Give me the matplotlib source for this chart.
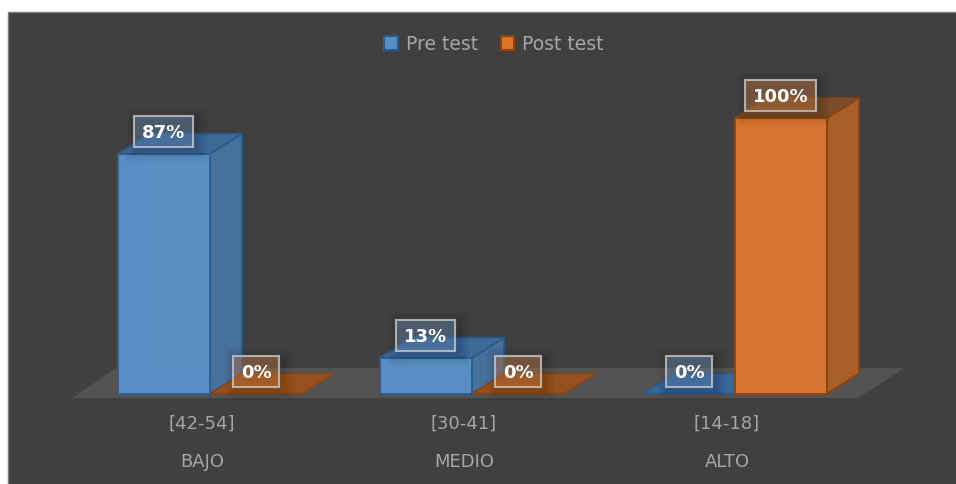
"""Pre/post test levels, Excel style 3D columns on a dark panel."""

import matplotlib
matplotlib.use("Agg")
import matplotlib.pyplot as plt
from matplotlib.patches import Polygon, Rectangle

ranges = ["[42-54]", "[30-41]", "[14-18]"]
levels = ["BAJO", "MEDIO", "ALTO"]
pre_test = [87, 13, 0]
post_test = [0, 0, 100]

BG = "#404040"
FLOOR = "#545252"
TXT = "#a6a6a6"
BLUE = dict(front="#5a8fc4", edge="#2b5c8c", side="#46719b", top="#3d6b98", back="#4f8cc6", plate="#38689a")
ORANGE = dict(front="#d67431", edge="#8a4511", side="#a85e28", top="#7d4c2a", back="#dd7426", plate="#96501f")

W, H = 956, 484
Y0_PX = 393.5
PX_PER_PCT = 2.755
BAR_W = 92
DX = 32
DY = 20 / PX_PER_PCT
centers = [210, 472, 735]


def py(px):
    # pixel row -> value on the y axis
    return (Y0_PX - px) / PX_PER_PCT


fig = plt.figure(figsize=(W / 100, H / 100), dpi=100, facecolor="white")
ax = fig.add_axes([0, 0, 1, 1])
ax.set_xlim(0, W)
ax.set_ylim(py(H), py(0))
ax.axis("off")

ax.add_patch(Rectangle((8.5, py(H + 5)), W, py(12.5) - py(H + 5), fc=BG, ec="#7a7a7a", lw=1, zorder=0))
ax.add_patch(Polygon([(72, py(398)), (858, py(398)), (905, py(368)), (116, py(368))], fc=FLOOR, ec="none", zorder=1))


def draw_3d(x0, val, c, z):
    x1 = x0 + BAR_W
    if val == 0:
        ax.add_patch(Polygon([(x0, 0), (x1, 0), (x1 + DX, DY), (x0 + DX, DY)],
                             fc=c["plate"], ec=c["edge"], lw=1, zorder=z))
        return
    # inner faces, seen faintly through the front
    ax.add_patch(Polygon([(x0 + DX, DY), (x1 + DX, DY), (x1 + DX, val + DY), (x0 + DX, val + DY)],
                         fc=c["front"], ec="none", zorder=z))
    ax.add_patch(Polygon([(x0, 0), (x0 + DX, DY), (x0 + DX, val + DY), (x0, val)], fc=c["back"], ec="none", zorder=z))
    ax.add_patch(Polygon([(x0, 0), (x1, 0), (x1 + DX, DY), (x0 + DX, DY)], fc=c["back"], ec="none", zorder=z))
    ax.add_patch(Polygon([(x1, 0), (x1 + DX, DY), (x1 + DX, val + DY), (x1, val)],
                         fc=c["side"], ec=c["edge"], lw=1.2, zorder=z))
    ax.add_patch(Polygon([(x0, val), (x1, val), (x1 + DX, val + DY), (x0 + DX, val + DY)],
                         fc=c["top"], ec=c["edge"], lw=1.2, zorder=z))


for cx, a, b in zip(centers, pre_test, post_test):
    draw_3d(cx - BAR_W, a, BLUE, 2)
    draw_3d(cx, b, ORANGE, 3)

pre_bars = ax.bar([c - BAR_W / 2 for c in centers], pre_test, BAR_W, color=BLUE["front"], alpha=0.94,
                  edgecolor=BLUE["edge"], linewidth=1.4, label="Pre test", zorder=2.5)
post_bars = ax.bar([c + BAR_W / 2 for c in centers], post_test, BAR_W, color=ORANGE["front"], alpha=0.94,
                   edgecolor=ORANGE["edge"], linewidth=1.4, label="Post test", zorder=3.5)
# zero height bars would leave a line on the plate
for bars, vals in ((pre_bars, pre_test), (post_bars, post_test)):
    for b, v in zip(bars, vals):
        if v == 0:
            b.set_visible(False)

box_w = {2: 46, 3: 59, 4: 71}
box_h = 31 / PX_PER_PCT


def add_label(x, val, c):
    s = f"{val}%"
    y = val + 22.5 / PX_PER_PCT
    w = box_w[len(s)]
    # soft shadow, built up from many faint layers
    for grow in range(1, 13):
        ax.add_patch(Rectangle((x - w / 2 - grow + 3, y - box_h / 2 - (grow + 3) / PX_PER_PCT),
                               w + 2 * grow, box_h + 2 * grow / PX_PER_PCT, fc="black", alpha=0.012,
                               ec="none", zorder=5))
    ax.add_patch(Rectangle((x - w / 2, y - box_h / 2), w, box_h, fc=c["front"], alpha=0.35, ec="none", zorder=6))
    ax.add_patch(Rectangle((x - w / 2, y - box_h / 2), w, box_h, fc="white", alpha=0.05, ec="none", zorder=6))
    ax.add_patch(Rectangle((x - w / 2, y - box_h / 2), w, box_h, fc="none", ec="#c9c9c9", lw=1.5, alpha=0.8, zorder=6))
    ax.text(x, y, s, ha="center", va="center_baseline", color="white", fontsize=13, fontweight="bold",
            family="DejaVu Sans", zorder=7)


for cx, a, b in zip(centers, pre_test, post_test):
    add_label(cx - BAR_W / 2, a, BLUE)
    add_label(cx + BAR_W / 2, b, ORANGE)

for cx, r, lev in zip(centers, ranges, levels):
    ax.text(cx - 8.5, py(424), r, ha="center", va="center", color=TXT, fontsize=13, family="DejaVu Sans")
    ax.text(cx - 8, py(462), lev, ha="center", va="center", color=TXT, fontsize=13, family="DejaVu Sans")

handles = [Rectangle((0, 0), 1, 1, fc=BLUE["front"], ec=BLUE["edge"], lw=1.5),
           Rectangle((0, 0), 1, 1, fc=ORANGE["back"], ec=ORANGE["edge"], lw=1.5)]
leg = ax.legend(handles, ["Pre test", "Post test"], ncol=2, loc="center", bbox_to_anchor=(494 / W, 1 - 44 / H),
                frameon=False, labelcolor=TXT, handlelength=0.7, handleheight=0.7,
                handletextpad=0.45, columnspacing=1.2, prop={"family": "DejaVu Sans", "size": 13.5})

fig.savefig("out.png", dpi=100, facecolor="white")
